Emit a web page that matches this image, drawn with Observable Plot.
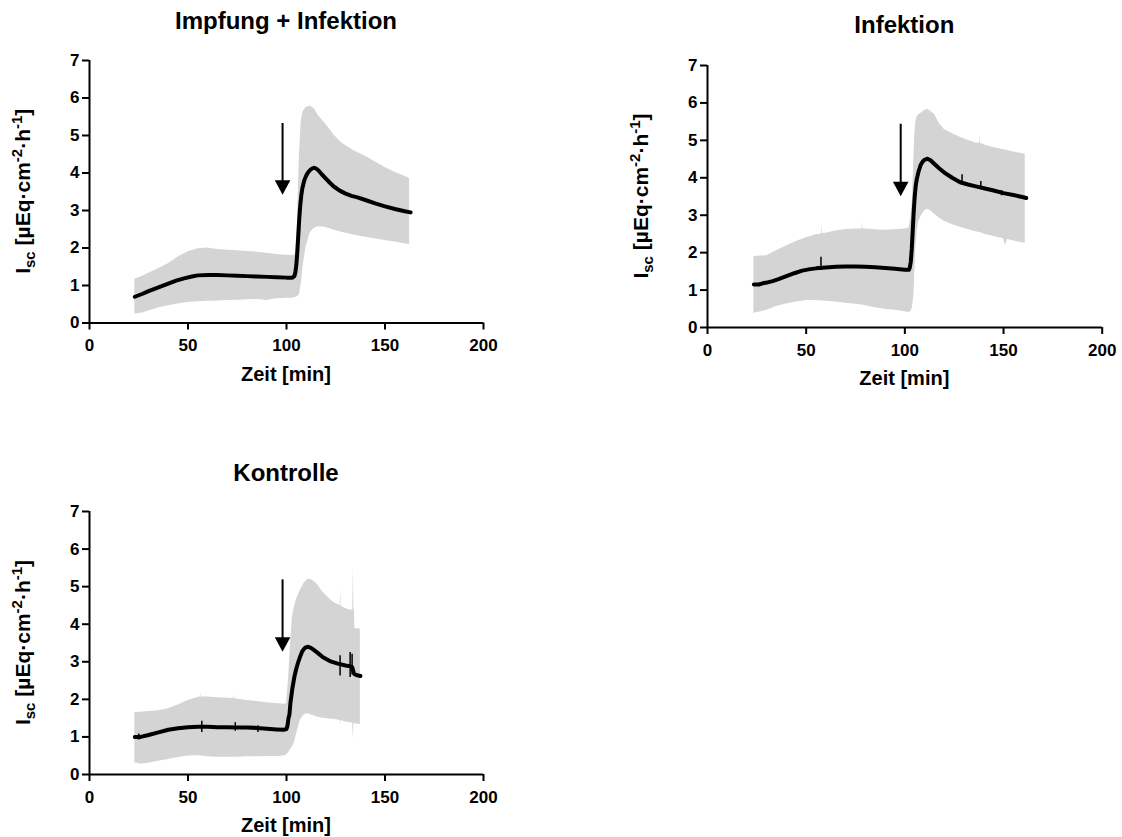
<!DOCTYPE html>
<html>
<head>
<meta charset="utf-8">
<script src="https://cdn.jsdelivr.net/npm/d3@7"></script>
<script src="https://cdn.jsdelivr.net/npm/@observablehq/plot@0.6"></script>
<style>
  body { margin: 0; background: #fff; }
  #root { position: relative; width: 1122px; height: 837px; overflow: hidden; }
  #root svg { position: absolute; }
</style>
</head>
<body>
<div id="root"></div>
<script>
// ---------- Data ----------
const xTicks = [0, 50, 100, 150, 200];
const yTicks = [0, 1, 2, 3, 4, 5, 6, 7];
const titles = ["Impfung + Infektion", "Infektion", "Kontrolle"];
const xLabel = "Zeit [min]";

// Panel 1: Impfung + Infektion
const impfLineT = [23,25,27,30,33,36,40,44,48,52,55,60,65,70,75,80,85,90,95,100,103,104,104.5,105,105.5,106,106.5,107,107.5,108,109,110,111,112,113,114,115,116,118,120,122,124,127,130,133,136,140,145,150,155,160,163];
const impfMean  = [0.70,0.74,0.78,0.85,0.91,0.97,1.05,1.13,1.19,1.24,1.27,1.28,1.28,1.27,1.26,1.25,1.24,1.23,1.22,1.21,1.21,1.25,1.35,1.55,1.90,2.35,2.80,3.15,3.40,3.58,3.80,3.93,4.02,4.08,4.12,4.14,4.12,4.08,3.96,3.85,3.74,3.64,3.53,3.45,3.39,3.35,3.28,3.19,3.11,3.04,2.98,2.95];
const impfBandT = [23,27,30,35,40,45,50,55,60,65,70,75,80,85,90,95,100,103,104.5,105.5,106.5,107.5,108.5,110,112,114,116,118,120,124,128,134,141,150,155,161.5,162.5];
const impfUpper = [1.17,1.25,1.33,1.45,1.58,1.76,1.90,1.98,2.00,1.96,1.94,1.93,1.91,1.89,1.86,1.83,1.81,1.80,1.82,2.60,4.40,5.40,5.65,5.75,5.79,5.72,5.55,5.42,5.30,5.02,4.80,4.60,4.42,4.15,4.02,3.88,3.85];
const impfLower = [0.24,0.27,0.32,0.40,0.46,0.51,0.55,0.57,0.58,0.59,0.60,0.61,0.62,0.63,0.60,0.65,0.66,0.66,0.68,0.70,0.75,1.05,1.55,2.05,2.40,2.52,2.57,2.56,2.55,2.48,2.42,2.35,2.28,2.20,2.16,2.10,2.08];
const impfSpikeT  = [];
const impfSpikeLo = [];
const impfSpikeHi = [];

// Panel 2: Infektion
const infLineT = [23.5,26,28,30,33,36,40,44,48,52,55,60,65,70,75,80,85,90,95,100,102,102.5,103,103.5,104,104.5,105,105.5,106,107,108,109,110,111.5,113,115,117.5,120,124,128,132,136,140,145,150,155,160,161.5];
const infMean  = [1.15,1.15,1.18,1.20,1.24,1.29,1.37,1.45,1.52,1.56,1.58,1.60,1.62,1.63,1.63,1.62,1.61,1.59,1.57,1.54,1.54,1.60,1.75,2.10,2.60,3.10,3.50,3.78,3.95,4.18,4.34,4.43,4.48,4.51,4.47,4.37,4.25,4.14,4.00,3.88,3.82,3.77,3.72,3.66,3.59,3.54,3.48,3.46];
const infBandT = [23.5,27,30,35,40,45,50,55,57.8,58,58.2,60,65,70,75,78.3,78.5,78.7,80,85,90,95,100,102,103,103.8,104.5,105,105.5,106.3,107,108.5,110,111.5,113,115,117.5,120,124,128,132,136,137.8,138,138.2,140,145,150,151,152,157,161];
const infUpper = [1.90,1.91,1.92,2.05,2.18,2.30,2.40,2.48,2.50,2.75,2.52,2.52,2.58,2.62,2.63,2.63,2.85,2.63,2.63,2.61,2.60,2.61,2.63,2.65,2.90,3.40,4.40,5.10,5.50,5.64,5.68,5.74,5.80,5.83,5.78,5.70,5.45,5.29,5.18,5.08,5.00,4.93,4.92,5.16,4.92,4.88,4.81,4.75,4.74,4.73,4.67,4.63];
const infLower = [0.38,0.42,0.46,0.56,0.63,0.68,0.72,0.72,0.71,0.71,0.71,0.70,0.68,0.65,0.62,0.60,0.60,0.60,0.58,0.53,0.49,0.46,0.42,0.40,0.42,0.52,0.80,1.40,2.10,2.60,2.82,3.00,3.12,3.16,3.12,3.03,2.92,2.84,2.75,2.68,2.62,2.56,2.54,2.54,2.54,2.50,2.43,2.37,2.19,2.35,2.29,2.25];
const infSpikeT  = [57.5, 129, 138.5, 149];
const infSpikeLo = [1.52, 3.80, 3.70, 3.52];
const infSpikeHi = [1.88, 4.08, 3.90, 3.66];

// Panel 3: Kontrolle
const konLineT = [23,26,30,35,40,45,50,55,60,65,70,75,80,85,90,95,98.5,100,100.5,101,101.5,102,103,104,105,106,107,108,109,110,111,112,113,115.5,118.5,122,126,130,132.3,133.3,134.2,134.5,136,137.5];
const konMean  = [1.00,1.00,1.05,1.12,1.19,1.23,1.26,1.27,1.27,1.26,1.26,1.25,1.25,1.24,1.22,1.20,1.19,1.21,1.30,1.50,1.60,1.90,2.30,2.60,2.82,3.00,3.15,3.28,3.35,3.39,3.40,3.38,3.35,3.25,3.12,3.02,2.95,2.90,2.88,2.86,2.70,2.67,2.64,2.62];
const konBandT = [23,26,30,35,40,45,50,55,56.3,56.5,56.7,60,65,70,73.3,73.5,73.7,75,80,85,90,95,98.5,100,101,102,103,104,105,107,109,111,113,115.5,118.5,122,124,127.3,127.5,127.7,130,132.3,133.6,133.9,134.2,134.5,134.7,137.5];
const konUpper = [1.65,1.66,1.68,1.70,1.75,1.85,1.97,2.05,2.06,2.18,2.06,2.06,2.04,2.03,2.02,2.12,2.02,2.00,1.97,1.94,1.91,1.89,1.87,1.88,2.50,3.40,4.20,4.45,4.65,4.90,5.10,5.20,5.18,5.07,4.85,4.67,4.58,4.50,4.94,4.48,4.42,4.38,4.38,5.51,4.38,4.36,3.88,3.87];
const konLower = [0.31,0.27,0.30,0.35,0.40,0.45,0.49,0.50,0.49,0.49,0.49,0.47,0.46,0.46,0.46,0.46,0.46,0.46,0.47,0.47,0.48,0.48,0.49,0.52,0.58,0.66,0.74,0.85,1.05,1.45,1.60,1.62,1.58,1.53,1.50,1.48,1.47,1.44,1.30,1.44,1.40,1.38,1.38,0.93,1.38,1.36,1.35,1.33];
const konSpikeT  = [25, 57, 74, 85.5, 127.2, 132.3, 133.3];
const konSpikeLo = [0.92, 1.12, 1.15, 1.12, 2.62, 2.58, 2.65];
const konSpikeHi = [1.08, 1.42, 1.38, 1.30, 3.16, 3.25, 3.20];

// Arrow annotations (x position, top of shaft, tip) per panel
const arrowX   = [98, 97.9, 98];
const arrowTop = [5.32, 5.43, 5.18];
const arrowTip = [3.42, 3.51, 3.27];

// ---------- Layout ----------
const layouts = [
  {left: 0,   top: 0,   width: 520, height: 390, ml: 89,  mr: 37,   mt: 60, mb: 67.5, titleY: 29.3},
  {left: 600, top: 0,   width: 520, height: 400, ml: 107, mr: 18.3, mt: 65, mb: 73,   titleY: 33.3},
  {left: 0,   top: 440, width: 520, height: 397, ml: 89,  mr: 37,   mt: 71, mb: 63,   titleY: 40.7}
];
const series = [
  {lt: impfLineT, lv: impfMean, bt: impfBandT, up: impfUpper, lo: impfLower, st: impfSpikeT, sl: impfSpikeLo, sh: impfSpikeHi},
  {lt: infLineT,  lv: infMean,  bt: infBandT,  up: infUpper,  lo: infLower,  st: infSpikeT,  sl: infSpikeLo,  sh: infSpikeHi},
  {lt: konLineT,  lv: konMean,  bt: konBandT,  up: konUpper,  lo: konLower,  st: konSpikeT,  sl: konSpikeLo,  sh: konSpikeHi}
];

const FONT = '"Liberation Sans", Arial, Helvetica, sans-serif';
const arrowHead = {
  draw(ctx) { ctx.moveTo(0, 0); ctx.lineTo(-7.8, -14.5); ctx.lineTo(7.8, -14.5); ctx.closePath(); }
};

const root = document.getElementById("root");

series.forEach((s, i) => {
  const L = layouts[i];
  const line = s.lt.map((t, k) => ({t, v: s.lv[k]}));
  const band = s.bt.map((t, k) => ({t, hi: s.up[k], lo: s.lo[k]}));
  const spikes = s.st.map((t, k) => ({t, lo: s.sl[k], hi: s.sh[k]}));
  const arrow = [{t: arrowX[i], top: arrowTop[i], tip: arrowTip[i]}];

  const svg = Plot.plot({
    width: L.width, height: L.height,
    marginLeft: L.ml, marginRight: L.mr, marginTop: L.mt, marginBottom: L.mb,
    x: {domain: [0, 200]},
    y: {domain: [0, 7]},
    style: {fontFamily: FONT, fontWeight: "bold", fontSize: "17px", color: "#000", background: "transparent", overflow: "visible"},
    marks: [
      Plot.areaY(band, {x: "t", y1: "lo", y2: "hi", fill: "#d4d4d4", curve: "linear"}),
      Plot.line(line, {x: "t", y: "v", stroke: "#000", strokeWidth: 4, strokeLinecap: "round", strokeLinejoin: "round"}),
      Plot.ruleX(spikes, {x: "t", y1: "lo", y2: "hi", stroke: "#000", strokeWidth: 1.5}),
      Plot.ruleX(arrow, {x: "t", y1: "top", y2: "tip", stroke: "#000", strokeWidth: 2, insetBottom: 10}),
      Plot.dot(arrow, {x: "t", y: "tip", symbol: arrowHead, r: 5, fill: "#000", stroke: "none"}),
      Plot.ruleY([0], {stroke: "#000", strokeWidth: 2}),
      Plot.ruleX([0], {stroke: "#000", strokeWidth: 2}),
      Plot.axisX({ticks: xTicks, tickFormat: d => String(d), tickSize: 7, tickPadding: 9, strokeWidth: 2, label: null, fontSize: 17, fontWeight: "bold"}),
      Plot.axisY({ticks: yTicks, tickFormat: d => String(d), tickSize: 7, tickPadding: 3, strokeWidth: 2, label: null, fontSize: 17, fontWeight: "bold"})
    ]
  });
  svg.style.left = L.left + "px";
  svg.style.top = L.top + "px";

  const g = d3.select(svg).append("g")
    .attr("font-family", FONT).attr("font-weight", "bold").attr("fill", "#000");
  const cx = L.ml + (L.width - L.ml - L.mr) / 2;
  const y0 = L.height - L.mb;
  const cy = L.mt + (y0 - L.mt) / 2;

  // title
  g.append("text").attr("x", cx).attr("y", L.titleY).attr("text-anchor", "middle")
    .attr("font-size", 24).text(titles[i]);
  // x label
  g.append("text").attr("x", cx).attr("y", y0 + 58).attr("text-anchor", "middle")
    .attr("font-size", 20).text(xLabel);
  // y label with sub/superscripts
  const yl = g.append("text").attr("text-anchor", "middle").attr("font-size", 21)
    .attr("transform", `translate(${L.ml - 59},${cy}) rotate(-90)`);
  yl.append("tspan").text("I");
  yl.append("tspan").attr("font-size", 15).attr("dy", 5).text("sc");
  yl.append("tspan").attr("dy", -5).text(" [µEq·cm");
  yl.append("tspan").attr("font-size", 15).attr("dy", -8).text("-2");
  yl.append("tspan").attr("dy", 8).text("·h");
  yl.append("tspan").attr("font-size", 15).attr("dy", -8).text("-1");
  yl.append("tspan").attr("dy", 8).text("]");

  root.appendChild(svg);
});
</script>
</body>
</html>
